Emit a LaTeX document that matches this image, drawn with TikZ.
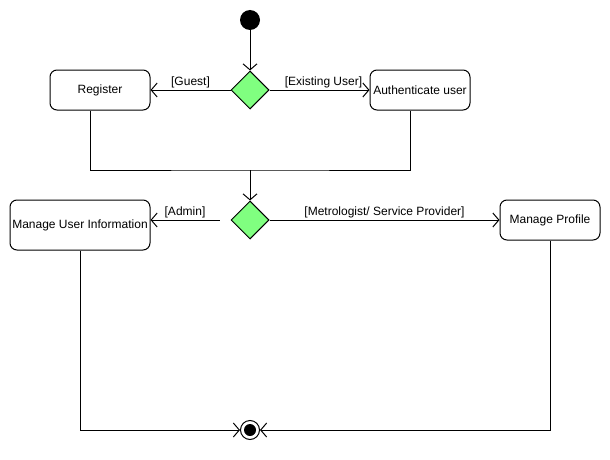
\documentclass[tikz,border=0pt]{standalone}
\usepackage{fontspec}
\setmainfont{Liberation Sans}
\usetikzlibrary{
    arrows.meta,
    shapes.geometric,
    positioning
}
\definecolor{choicegreen}{RGB}{128,255,128}
\tikzset{
    activity/.style={draw, rounded corners=7pt, line width=1pt, align=center,
        inner sep=0pt, font=\fontsize{12}{14}\selectfont},
    choice/.style={diamond, draw, fill=choicegreen, line width=1pt,
        minimum width=38pt, minimum height=38pt, inner sep=0pt},
    flow/.style={-{Straight Barb[length=6pt, width=14pt]}, line width=1pt},
    edge/.style={line width=1pt},
    guard/.style={above, inner sep=1.5pt, font=\fontsize{12}{14}\selectfont},
    initial/.style={circle, fill=black, minimum size=20pt, inner sep=0pt},
    finalring/.style={circle, draw, fill=white, line width=1pt, minimum size=19pt, inner sep=0pt},
    finaldot/.style={circle, fill=black, minimum size=12pt, inner sep=0pt}
}

\begin{document}
\begin{tikzpicture}[x=1pt, y=-1pt]
    \useasboundingbox (0,0) rectangle (610,460);
    % start and first choice
    \node[initial] (start) at (250,20) {};
    \node[choice] (login) at (250,90) {};
    \node[activity, minimum width=100pt, minimum height=40pt] (register) at (100,90) {Register};
    \node[activity, minimum width=100pt, minimum height=40pt] (auth) at (420,90) {Authenticate user};
    \draw[flow] (start) -- (login);
    \draw[flow] (login) -- node[guard] {[Guest]} (register);
    \draw[flow] (login) -- node[guard, xshift=4pt] {[Existing User]} (auth);
    % merge
    \coordinate (merge) at (250,170);
    \draw[edge] ([xshift=-10pt]register.south) |- (merge) -| ([xshift=-10pt]auth.south);
    % role choice
    \node[choice] (role) at (250,220) {};
    \node[activity, minimum width=140pt, minimum height=50pt] (userinfo) at (80,225) {Manage User Information};
    \node[activity, minimum width=100pt, minimum height=40pt] (profile) at (550,220) {Manage Profile};
    \draw[flow] (merge) -- (role);
    \draw[flow] ([xshift=-11pt]role.west) -- node[guard] {[Admin]} (userinfo.east |- role);
    \draw[flow] (role) -- node[guard] {[Metrologist/ Service Provider]} (profile);
    % end
    \node[finalring] (final) at (250,430) {};
    \node[finaldot] (finaldot) at (final) {};
    \draw[flow] (userinfo.south) |- (final.west);
    \draw[flow] (profile.south) |- (final.east);
\end{tikzpicture}
\end{document}
